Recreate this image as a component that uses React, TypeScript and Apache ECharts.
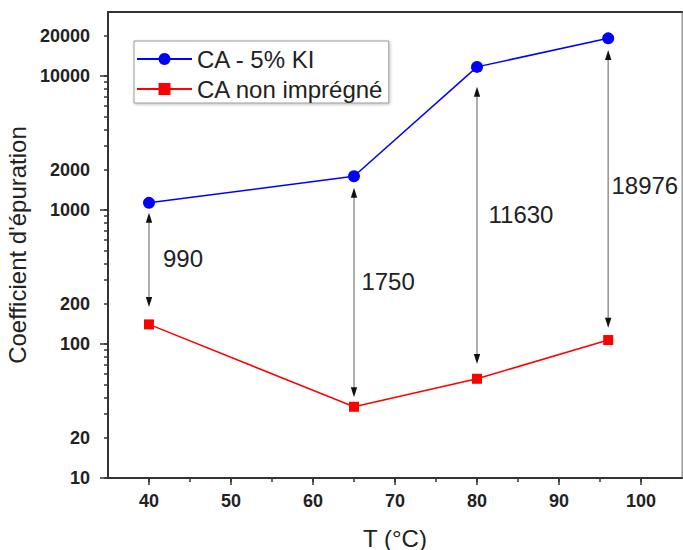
import React, { useEffect, useRef } from 'react';
import * as echarts from 'echarts';

const temperatures = [40, 65, 80, 96];
const caKI = [1130, 1784, 11685, 19083];
const caNonImpregne = [140, 34, 55, 107];
const differenceLabels = ['990', '1750', '11630', '18976'];
const arrowTop = [955, 1466, 8318, 15630];
const arrowBottom = [189, 40, 71, 132];
const labelT = [41.7, 65.9, 81.4, 96.4];
const labelLevel = [431, 295, 918, 1511];

const xTicks = [40, 50, 60, 70, 80, 90, 100];
const xMinorTicks = [45, 55, 65, 75, 85, 95];
const yLabels = [10, 20, 100, 200, 1000, 2000, 10000, 20000];
const yMajorTicks = [10, 100, 1000, 10000];
const yMinorTicks = [
  20, 30, 40, 50, 60, 70, 80, 90,
  200, 300, 400, 500, 600, 700, 800, 900,
  2000, 3000, 4000, 5000, 6000, 7000, 8000, 9000,
  20000,
];

const FONT = 'Arial, "Liberation Sans", Helvetica, sans-serif';
const AXIS_COLOR = '#333';

export default function App() {
  const ref = useRef<HTMLDivElement>(null);

  useEffect(() => {
    if (!ref.current) return;
    const chart = echarts.init(ref.current, undefined, { renderer: 'svg' });

    const arrowData = temperatures.map((t, i) => [t, arrowTop[i], arrowBottom[i], labelT[i], labelLevel[i]]);

    const option: any = {
      animation: false,
      backgroundColor: '#fff',
      grid: {
        left: 108,
        right: 1,
        top: 12,
        bottom: 72,
        show: true,
        borderColor: '#999',
        borderWidth: 1,
        outerBoundsMode: 'none',
        containLabel: false,
      },
      legend: {
        data: ['CA - 5% KI', 'CA non imprégné'],
        orient: 'vertical',
        left: 134,
        top: 41,
        itemWidth: 55,
        itemHeight: 15,
        itemGap: 6,
        padding: [6, 5, 2, 2],
        borderColor: '#9a9a9a',
        borderWidth: 1,
        backgroundColor: '#fff',
        shadowColor: 'rgba(0,0,0,0.25)',
        shadowBlur: 3,
        shadowOffsetX: 1,
        shadowOffsetY: 1,
        textStyle: { fontSize: 24, color: '#222', fontFamily: FONT, lineHeight: 24 },
      },
      xAxis: [
        {
          type: 'value',
          min: 35,
          max: 105,
          position: 'bottom',
          name: 'T (°C)',
          nameLocation: 'middle',
          nameGap: 48,
          nameTextStyle: { fontSize: 24, color: '#222', fontFamily: FONT },
          axisLine: { show: true, onZero: false, lineStyle: { color: AXIS_COLOR, width: 2 } },
          axisTick: {
            show: true,
            customValues: xTicks.concat(xMinorTicks),
            length: 4,
            lineStyle: { color: AXIS_COLOR, width: 1.5 },
          },
          axisLabel: {
            customValues: xTicks,
            margin: 14,
            fontSize: 18,
            fontWeight: 'bold',
            color: '#222',
            fontFamily: FONT,
          },
          splitLine: { show: false },
        },
        {
          type: 'value',
          min: 35,
          max: 105,
          position: 'bottom',
          axisLine: { show: false, onZero: false },
          axisTick: { show: true, customValues: xTicks, length: 7, lineStyle: { color: AXIS_COLOR, width: 1.5 } },
          axisLabel: { show: false },
          splitLine: { show: false },
        },
        {
          type: 'value',
          min: 35,
          max: 105,
          position: 'top',
          axisLine: { show: true, onZero: false, lineStyle: { color: AXIS_COLOR, width: 2 } },
          axisTick: { show: false },
          axisLabel: { show: false },
          splitLine: { show: false },
        },
      ],
      yAxis: [
        {
          type: 'log',
          logBase: 10,
          min: 10,
          max: 30000,
          position: 'left',
          name: "Coefficient d'épuration",
          nameLocation: 'middle',
          nameGap: 74,
          nameTextStyle: { fontSize: 24, color: '#222', fontFamily: FONT },
          axisLine: { show: true, onZero: false, lineStyle: { color: AXIS_COLOR, width: 2 } },
          axisTick: {
            show: true,
            customValues: yMajorTicks.concat(yMinorTicks),
            length: 4,
            lineStyle: { color: AXIS_COLOR, width: 1.5 },
          },
          axisLabel: {
            customValues: yLabels,
            margin: 18,
            fontSize: 18,
            fontWeight: 'bold',
            color: '#222',
            fontFamily: FONT,
            formatter: (v: number) => String(Math.round(v)),
          },
          splitLine: { show: false },
        },
        {
          type: 'log',
          logBase: 10,
          min: 10,
          max: 30000,
          position: 'left',
          axisLine: { show: false, onZero: false },
          axisTick: { show: true, customValues: yMajorTicks, length: 8, lineStyle: { color: AXIS_COLOR, width: 1.5 } },
          axisLabel: { show: false },
          splitLine: { show: false },
        },
        {
          type: 'value',
          min: 0,
          max: 1,
          position: 'right',
          axisLine: { show: true, onZero: false, lineStyle: { color: '#999', width: 1 } },
          axisTick: { show: false },
          axisLabel: { show: false },
          splitLine: { show: false },
        },
      ],
      series: [
        {
          name: 'CA - 5% KI',
          type: 'line',
          xAxisIndex: 0,
          yAxisIndex: 0,
          data: temperatures.map((t, i) => [t, caKI[i]]),
          symbol: 'circle',
          symbolSize: 12,
          lineStyle: { color: '#0000ff', width: 1.5 },
          itemStyle: { color: '#0000ff' },
          z: 3,
        },
        {
          name: 'CA non imprégné',
          type: 'line',
          xAxisIndex: 0,
          yAxisIndex: 0,
          data: temperatures.map((t, i) => [t, caNonImpregne[i]]),
          symbol: 'rect',
          symbolSize: 10,
          lineStyle: { color: '#ff0000', width: 1.5 },
          itemStyle: { color: '#ff0000' },
          z: 3,
        },
        {
          type: 'custom',
          xAxisIndex: 0,
          yAxisIndex: 0,
          silent: true,
          encode: { x: 0, y: [1, 2] },
          data: arrowData,
          renderItem: (params: any, api: any) => {
            const i = params.dataIndex;
            const top = api.coord([api.value(0), api.value(1)]);
            const bot = api.coord([api.value(0), api.value(2)]);
            const lab = api.coord([api.value(3), api.value(4)]);
            const ah = 10;
            const aw = 3.2;
            return {
              type: 'group',
              children: [
                {
                  type: 'line',
                  shape: { x1: top[0], y1: top[1] + ah * 0.6, x2: bot[0], y2: bot[1] - ah * 0.6 },
                  style: { stroke: '#9a9a9a', lineWidth: 1.6 },
                },
                {
                  type: 'polygon',
                  shape: { points: [[top[0], top[1]], [top[0] - aw, top[1] + ah], [top[0] + aw, top[1] + ah]] },
                  style: { fill: '#111' },
                },
                {
                  type: 'polygon',
                  shape: { points: [[bot[0], bot[1]], [bot[0] - aw, bot[1] - ah], [bot[0] + aw, bot[1] - ah]] },
                  style: { fill: '#111' },
                },
                {
                  type: 'text',
                  x: lab[0],
                  y: lab[1],
                  style: {
                    text: differenceLabels[i],
                    fontSize: 24,
                    fontFamily: FONT,
                    fill: '#222',
                    align: 'left',
                    verticalAlign: 'middle',
                  },
                },
              ],
            };
          },
          z: 2,
        },
      ],
    };

    chart.setOption(option);
    return () => {
      chart.dispose();
    };
  }, []);

  return (
    <div
      ref={ref}
      style={{ position: 'absolute', left: 0, top: 0, width: 683, height: 550 }}
    />
  );
}
